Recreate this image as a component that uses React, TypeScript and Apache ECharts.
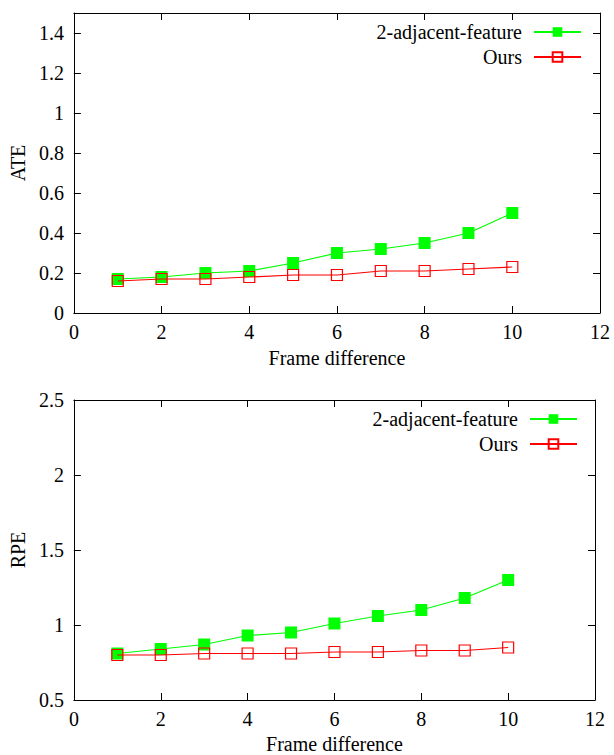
import React, { useEffect, useRef } from "react";
import * as echarts from "echarts";

const frames = [1, 2, 3, 4, 5, 6, 7, 8, 9, 10];
const ateAdjacent = [0.17, 0.18, 0.2, 0.21, 0.25, 0.3, 0.32, 0.35, 0.4, 0.5];
const ateOurs = [0.16, 0.17, 0.17, 0.18, 0.19, 0.19, 0.21, 0.21, 0.22, 0.23];
const rpeAdjacent = [0.81, 0.84, 0.87, 0.93, 0.95, 1.01, 1.06, 1.1, 1.18, 1.3];
const rpeOurs = [0.8, 0.8, 0.81, 0.81, 0.81, 0.82, 0.82, 0.83, 0.83, 0.85];
const seriesNames = ["2-adjacent-feature", "Ours"];
const xLabel = "Frame difference";
const yLabels = ["ATE", "RPE"];

const FONT = "'Liberation Serif', 'Times New Roman', serif";
const GREEN = "#00ff00";
const RED = "#ff0000";

export default function App() {
  const ref = useRef<HTMLDivElement>(null);
  useEffect(() => {
    if (!ref.current) return;
    const chart = echarts.init(ref.current, undefined, { renderer: "svg" });
    const txt = { fontFamily: FONT, fontSize: 20, color: "#000" };
    const axLine = { show: true, onZero: false, lineStyle: { color: "#000", width: 1 } };
    const tick = { show: true, inside: true, length: 7, lineStyle: { color: "#000", width: 1 } };
    const xBottom = (gi: number, gap: number) => ({
      type: "value", gridIndex: gi, min: 0, max: 12, interval: 2, position: "bottom",
      axisLine: axLine, axisTick: tick, splitLine: { show: false },
      axisLabel: { ...txt, margin: 9 },
      name: xLabel, nameLocation: "middle", nameGap: gap, nameTextStyle: txt,
    });
    const xTop = (gi: number) => ({
      type: "value", gridIndex: gi, min: 0, max: 12, interval: 2, position: "top",
      axisLine: axLine, axisTick: tick, splitLine: { show: false }, axisLabel: { show: false },
    });
    const yLeft = (gi: number, min: number, max: number, interval: number, name: string, gap: number, showMax: boolean) => ({
      type: "value", gridIndex: gi, min, max, interval, position: "left",
      axisLine: axLine, axisTick: tick, splitLine: { show: false },
      axisLabel: { ...txt, margin: 10, showMaxLabel: showMax },
      name, nameLocation: "middle", nameGap: gap, nameRotate: 90, nameTextStyle: txt,
    });
    const yRight = (gi: number, min: number, max: number, interval: number) => ({
      type: "value", gridIndex: gi, min, max, interval, position: "right",
      axisLine: axLine, axisTick: tick, splitLine: { show: false }, axisLabel: { show: false },
    });
    const mk = (name: string, data: number[], xi: number, yi: number) => {
      const isGreen = name === seriesNames[0];
      return {
        type: "line", name, xAxisIndex: xi, yAxisIndex: yi,
        data: frames.map((f, i) => [f, data[i]]),
        symbol: "rect",
        symbolSize: isGreen ? 12 : 11,
        lineStyle: { color: isGreen ? GREEN : RED, width: 1.2 },
        itemStyle: isGreen
          ? { color: GREEN }
          : { color: "rgba(255,255,255,0)", borderColor: RED, borderWidth: 1.2 },
        z: isGreen ? 2 : 3,
      };
    };
    const lg = (name: string, right: number, top: number) => ({
      data: [name], right, top, orient: "horizontal", align: "right", padding: 0,
      itemWidth: 47, itemHeight: 12, selectedMode: false,
      textStyle: { ...txt, padding: [0, 7, 0, 0] },
    });
    chart.setOption({
      animation: false,
      backgroundColor: "#fff",
      textStyle: { fontFamily: FONT },
      grid: [
        { left: 72, right: 14, top: 13, height: 300 },
        { left: 67, right: 19, top: 400, height: 301 },
      ],
      xAxis: [xBottom(0, 35), xTop(0), xBottom(1, 34), xTop(1)],
      yAxis: [
        yLeft(0, 0, 1.5, 0.2, yLabels[0], 44, false),
        yRight(0, 0, 1.5, 0.2),
        yLeft(1, 0.5, 2.5, 0.5, yLabels[1], 42, true),
        yRight(1, 0.5, 2.5, 0.5),
      ],
      legend: [
        lg(seriesNames[0], 32, 22),
        lg(seriesNames[1], 32, 47),
        lg(seriesNames[0], 36, 409),
        lg(seriesNames[1], 36, 434),
      ],
      series: [
        mk(seriesNames[0], ateAdjacent, 0, 0),
        mk(seriesNames[1], ateOurs, 0, 0),
        mk(seriesNames[0], rpeAdjacent, 2, 2),
        mk(seriesNames[1], rpeOurs, 2, 2),
      ],
    });
    return () => chart.dispose();
  }, []);
  return (
    <div
      ref={ref}
      style={{ position: "fixed", left: 0, top: 0, width: 614, height: 755, background: "#fff" }}
    />
  );
}
